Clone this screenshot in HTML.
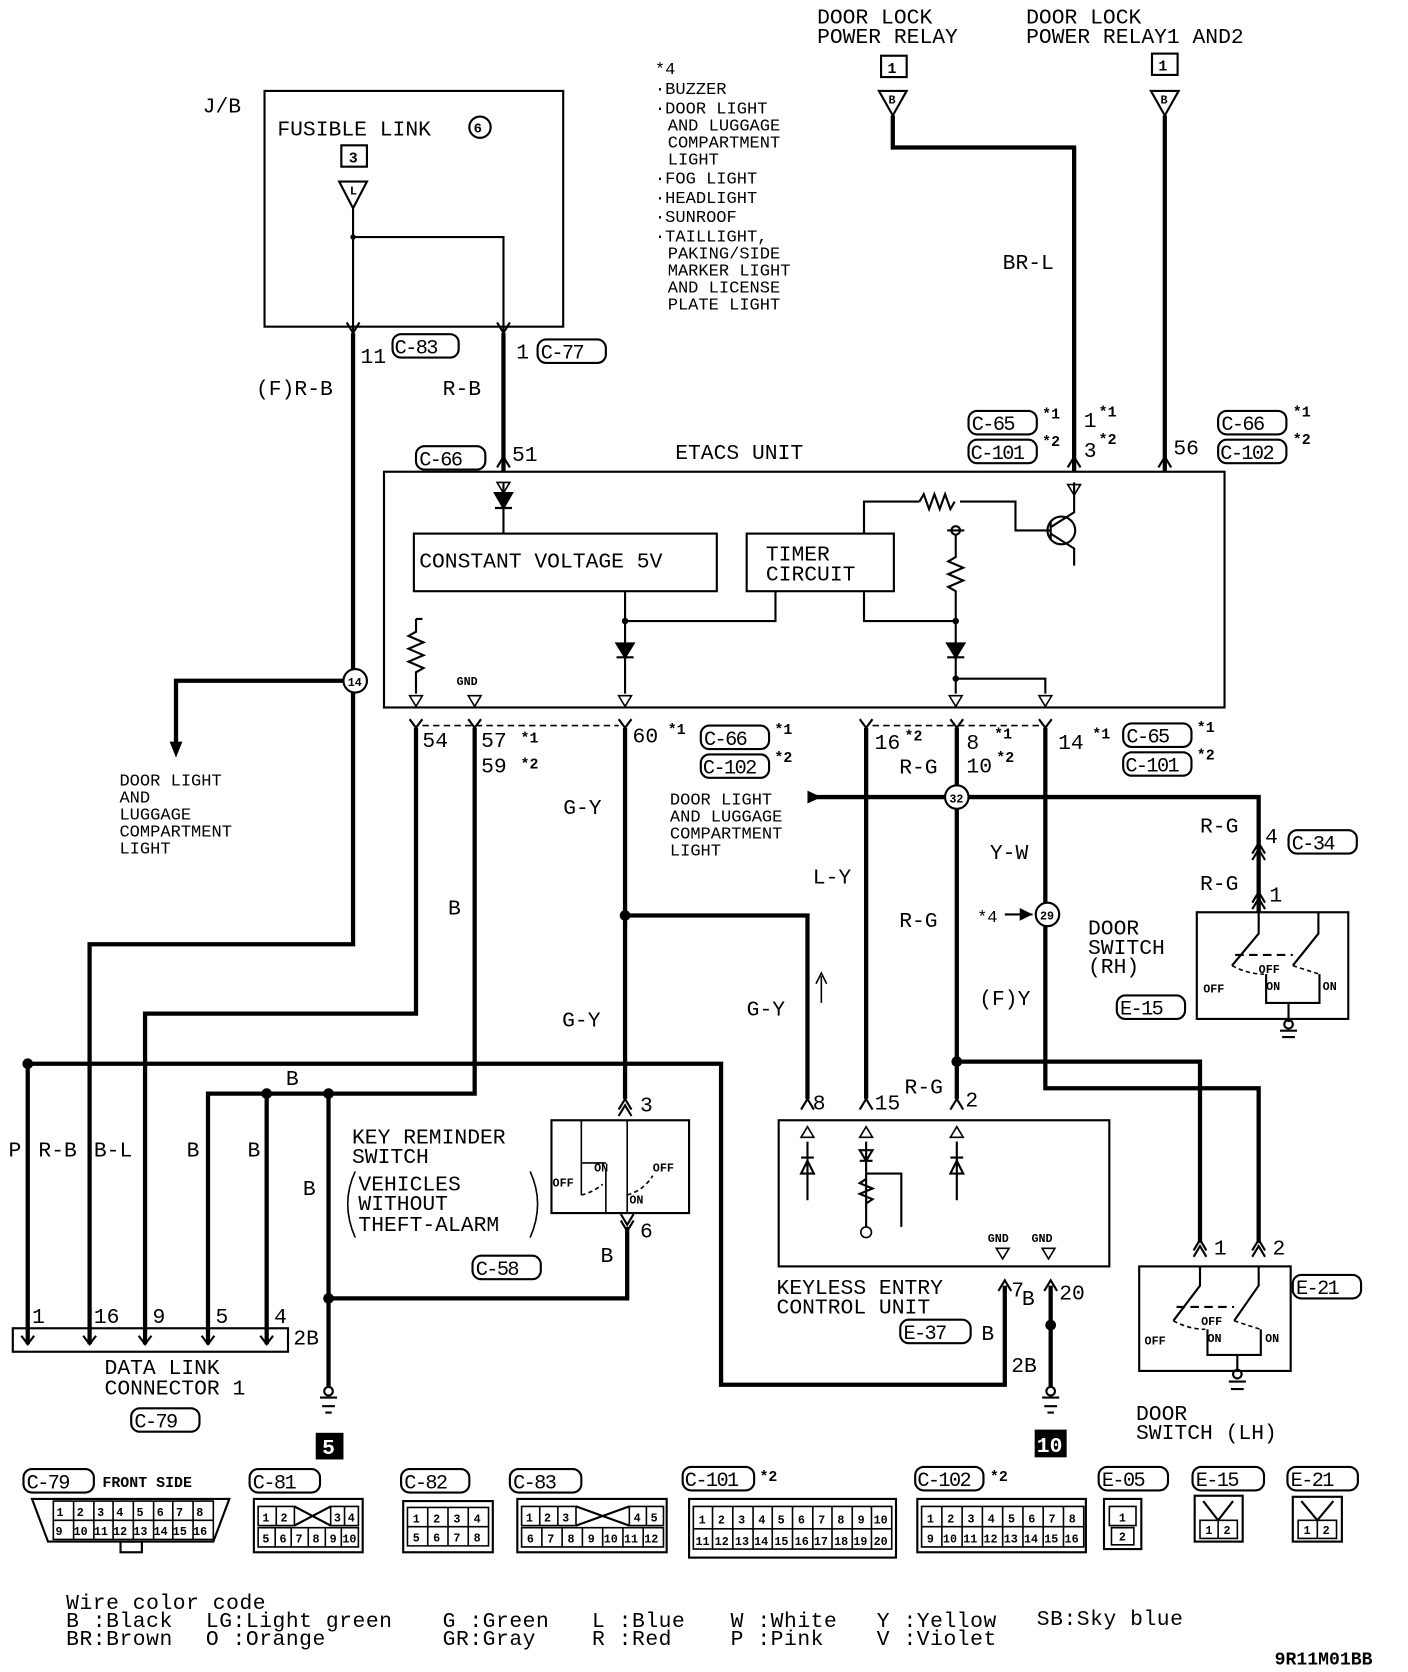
<!DOCTYPE html>
<html><head><meta charset="utf-8"><style>
html,body{margin:0;padding:0;background:#fff}
svg{display:block}
text{font-family:"Liberation Mono",monospace;fill:#000}
.t{font-size:20px}
.s{font-size:16px}
.g{font-size:19px;letter-spacing:-1.5px}
.lg{font-size:20px;letter-spacing:0.5px}
.xs{font-size:11px;font-weight:bold}
.b{font-size:14px;font-weight:bold}
</style></head><body>
<svg width="1408" height="1672" viewBox="0 0 1320 1567" xmlns="http://www.w3.org/2000/svg">
<rect width="1320" height="1567" fill="#fff"/>
<g fill="none" stroke="#000">
<rect x="248" y="85" width="280" height="221" stroke-width="2"/>
<rect x="320" y="136" width="24" height="20" stroke-width="2"/>
<path d="M318 170 L344 170 L331 195 Z" stroke-width="2"/>
<path d="M331 195 V330 M331 222 H472 V330" stroke-width="2"/>
<path d="M325 302 L331 312 L337 302 M466 302 L472 312 L478 302" stroke-width="2"/>
<path d="M331 312 V885 H84 V1245" stroke-width="4"/>
<path d="M472 312 V442" stroke-width="4"/>
<path d="M331 638 H165 V700" stroke-width="4"/>
<rect x="826" y="52" width="24" height="20" stroke-width="2"/>
<path d="M824 85 L850 85 L837 108 Z" stroke-width="2"/>
<path d="M837 108 V138 H1007 V442" stroke-width="4"/>
<rect x="1080" y="50" width="24" height="20" stroke-width="2"/>
<path d="M1079 85 L1105 85 L1092 108 Z" stroke-width="2"/>
<path d="M1092 108 V442" stroke-width="4"/>
<path d="M466 438 L472 428 L478 438 M1001 438 L1007 428 L1013 438 M1086 438 L1092 428 L1098 438" stroke-width="2"/>
<rect x="360" y="442" width="788" height="221" stroke-width="2"/>
<rect x="388" y="500" width="284" height="54" stroke-width="2"/>
<rect x="700" y="500" width="138" height="54" stroke-width="2"/>
<path d="M472 452 V500" stroke-width="2"/>
<path d="M586 554 V582 H727 V554" stroke-width="2"/>
<path d="M586 582 V650" stroke-width="2"/>
<path d="M810 554 V582 H896" stroke-width="2"/>
<path d="M810 500 V470 H862 M900 470 H952 V497 H985" stroke-width="2"/>
<path d="M862 470 l4 -7 l5 14 l5 -14 l5 14 l5 -14 l5 14 l4 -7" stroke-width="2"/>
<circle cx="995" cy="497" r="13" stroke-width="2"/>
<path d="M985 488 V506 M985 494 L1007 480 V452 M985 500 L1007 514 V530" stroke-width="2"/>
<path d="M1001 454 L1013 454 L1007 464 Z" stroke-width="1.5"/>
<circle cx="896" cy="497" r="4" stroke-width="2"/>
<path d="M888 497 H904" stroke-width="2"/>
<path d="M896 501 V522 l-7 4 l14 6 l-14 6 l14 6 l-14 6 l7 4 V650 M896 636 H980 V650" stroke-width="2"/>
<path d="M390 580 V592 l-7 4 l14 6 l-14 6 l14 6 l-14 6 l14 6 l-7 4 V650 M390 580 h6" stroke-width="2"/>
<path d="M384 652 L396 652 L390 662 Z M439 652 L451 652 L445 662 Z M580 652 L592 652 L586 662 Z M890 652 L902 652 L896 662 Z M974 652 L986 652 L980 662 Z M466 452 L478 452 L472 462 Z" stroke-width="1.5"/>
<path d="M384 674 L390 682 L396 674 M439 674 L445 682 L451 674 M580 674 L586 682 L592 674 M806 674 L812 682 L818 674 M891 674 L897 682 L903 674 M974 674 L980 682 L986 674" stroke-width="2"/>
<path d="M396 680 H580 M818 680 H974" stroke-width="1.5" stroke-dasharray="6 4"/>
<path d="M390 682 V950 H136 V1245" stroke-width="4"/>
<path d="M445 682 V1025 H195 V1245 M250 1025 V1245 M308 1025 V1300" stroke-width="4"/>
<path d="M26 1245 V997 H676 V1298 H942 V1205" stroke-width="4"/>
<path d="M308 1217 H588 V1150" stroke-width="4"/>
<path d="M586 682 V1030 M586 858 H757 V1030" stroke-width="4"/>
<path d="M812 682 V1030 M897 682 V1030 M897 995 H1125 V1165" stroke-width="4"/>
<path d="M980 682 V1020 H1180 V1165" stroke-width="4"/>
<path d="M760 747 H1180 V855" stroke-width="4"/>
<path d="M985 1205 V1300" stroke-width="4"/>
<path d="M770 940 V915 M765 922 L770 912 L775 922" stroke-width="1.5"/>
<path d="M942 857 H968" stroke-width="2"/>
<path d="M580 1040 L586 1030 L592 1040 M580 1046 L586 1036 L592 1046 M751 1040 L757 1030 L763 1040 M806 1040 L812 1030 L818 1040 M891 1040 L897 1030 L903 1040" stroke-width="2"/>
<path d="M582 1138 L588 1148 L594 1138 M582 1144 L588 1154 L594 1144" stroke-width="2"/>
<path d="M1174 800 L1180 790 L1186 800 M1174 806 L1180 796 L1186 806 M1174 846 L1180 836 L1186 846 M1174 852 L1180 842 L1186 852" stroke-width="2"/>
<path d="M1119 1172 L1125 1162 L1131 1172 M1119 1178 L1125 1168 L1131 1178 M1174 1172 L1180 1162 L1186 1172 M1174 1178 L1180 1168 L1186 1178" stroke-width="2"/>
<path d="M936 1210 L942 1200 L948 1210 M979 1210 L985 1200 L991 1210" stroke-width="2"/>
<rect x="517" y="1050" width="129" height="87" stroke-width="2"/>
<path d="M545 1050 V1120 M588 1050 V1137 M545 1090 H568 M568 1096 V1137" stroke-width="1.5"/>
<path d="M545 1120 q10 -2 20 -10 M588 1120 q15 -4 24 -18" stroke-width="1.5" stroke-dasharray="4 3"/>
<path d="M333 1098 q-14 30 0 62 M497 1098 q14 30 0 62" stroke-width="1.5"/>
<rect x="730" y="1050" width="310" height="137" stroke-width="2"/>
<path d="M757 1070 V1125 M751 1085 H763 M751 1100 L757 1088 L763 1100 Z M812 1070 V1150 M806 1088 H818 M806 1078 L818 1078 L812 1088 Z M812 1100 H845 V1150 M812 1105 l-6 4 l12 5 l-12 5 l12 5 l-6 4 M897 1070 V1125 M891 1085 H903 M891 1100 L897 1088 L903 1100 Z" stroke-width="2"/>
<path d="M751 1066 L763 1066 L757 1056 Z M806 1066 L818 1066 L812 1056 Z M891 1066 L903 1066 L897 1056 Z" stroke-width="1.5"/>
<circle cx="812" cy="1155" r="5" stroke-width="1.5"/>
<path d="M934 1170 L946 1170 L940 1180 Z M977 1170 L989 1170 L983 1180 Z" stroke-width="1.5"/>
<rect x="12" y="1245" width="258" height="22" stroke-width="2"/>
<path d="M20 1252 L26 1260 L32 1252 M78 1252 L84 1260 L90 1252 M130 1252 L136 1260 L142 1252 M189 1252 L195 1260 L201 1252 M244 1252 L250 1260 L256 1252" stroke-width="2"/>
<path d="M26 1245 V1260 M84 1245 V1260 M136 1245 V1260 M195 1245 V1260 M250 1245 V1260" stroke-width="4"/>
<path d="M300 1310 H316 M302 1318 H314 M305 1324 H311 M977 1310 H993 M979 1318 H991 M982 1324 H988 M1200 966 H1216 M1202 972 H1214 M1152 1295 H1168 M1154 1302 H1166" stroke-width="2"/>
<circle cx="308" cy="1304" r="4" stroke-width="2"/>
<circle cx="985" cy="1304" r="4" stroke-width="2"/>
<rect x="1122" y="855" width="142" height="100" stroke-width="2"/>
<path d="M1180 855 V875 L1155 905 M1236 855 V875 L1212 905" stroke-width="2"/>
<path d="M1158 895 H1212" stroke-width="2" stroke-dasharray="8 5"/>
<path d="M1155 905 q15 8 30 8 M1212 905 q15 5 25 8" stroke-width="1.5" stroke-dasharray="4 3"/>
<path d="M1187 913 V940 H1237 V913 M1208 940 V958" stroke-width="2"/>
<circle cx="1208" cy="960" r="4" stroke-width="2"/>
<rect x="1068" y="1187" width="142" height="98" stroke-width="2"/>
<path d="M1125 1187 V1205 L1100 1238 M1180 1187 V1205 L1157 1238" stroke-width="2"/>
<path d="M1103 1225 H1157" stroke-width="2" stroke-dasharray="8 5"/>
<path d="M1100 1238 q15 8 30 8 M1157 1238 q15 5 25 8" stroke-width="1.5" stroke-dasharray="4 3"/>
<path d="M1132 1246 V1270 H1182 V1246 M1160 1270 V1285" stroke-width="2"/>
<circle cx="1160" cy="1288" r="4" stroke-width="2"/>
<g stroke-width="2">
<rect x="368" y="313" width="62" height="22" rx="8"/>
<rect x="504" y="318" width="64" height="22" rx="8"/>
<rect x="390" y="418" width="65" height="22" rx="8"/>
<rect x="908" y="385" width="64" height="22" rx="8"/>
<rect x="908" y="412" width="64" height="22" rx="8"/>
<rect x="1142" y="385" width="64" height="22" rx="8"/>
<rect x="1142" y="412" width="64" height="22" rx="8"/>
<rect x="657" y="680" width="64" height="22" rx="8"/>
<rect x="657" y="707" width="64" height="22" rx="8"/>
<rect x="1053" y="678" width="64" height="22" rx="8"/>
<rect x="1053" y="705" width="64" height="22" rx="8"/>
<rect x="1208" y="778" width="64" height="22" rx="8"/>
<rect x="1047" y="933" width="64" height="22" rx="8"/>
<rect x="443" y="1177" width="64" height="22" rx="8"/>
<rect x="844" y="1237" width="66" height="22" rx="8"/>
<rect x="1212" y="1195" width="64" height="22" rx="8"/>
<rect x="123" y="1320" width="64" height="22" rx="8"/>
<rect x="22" y="1377" width="66" height="22" rx="8"/>
<rect x="234" y="1377" width="66" height="22" rx="8"/>
<rect x="376" y="1377" width="64" height="22" rx="8"/>
<rect x="478" y="1377" width="67" height="22" rx="8"/>
<rect x="640" y="1375" width="67" height="22" rx="8"/>
<rect x="858" y="1375" width="64" height="22" rx="8"/>
<rect x="1030" y="1375" width="65" height="22" rx="8"/>
<rect x="1118" y="1375" width="67" height="22" rx="8"/>
<rect x="1207" y="1375" width="66" height="22" rx="8"/>
</g>
<circle cx="333" cy="638" r="11" stroke-width="2" fill="#fff"/>
<circle cx="897" cy="747" r="11" stroke-width="2" fill="#fff"/>
<circle cx="982" cy="857" r="11" stroke-width="2" fill="#fff"/>
<circle cx="450" cy="119" r="10" stroke-width="2"/>
<g stroke-width="2">
<path d="M30 1405 H215 L200 1445 H45 Z"/>
<rect x="113" y="1445" width="20" height="10"/>
<rect x="238" y="1405" width="102" height="50"/>
<path d="M276 1412 L310 1430 M276 1430 L310 1412"/>
<rect x="378" y="1407" width="84" height="48"/>
<rect x="485" y="1405" width="140" height="50"/>
<path d="M540 1412 L590 1430 M540 1430 L590 1412"/>
<rect x="646" y="1405" width="194" height="55"/>
<rect x="860" y="1405" width="158" height="50"/>
<rect x="1035" y="1405" width="35" height="47"/>
<rect x="1120" y="1402" width="45" height="43"/>
<path d="M1128 1407 L1142 1425 L1156 1407"/>
<rect x="1212" y="1403" width="46" height="42"/>
<path d="M1220 1407 L1235 1425 L1250 1407"/>
</g>
<g stroke-width="1.5">
<path d="M50 1407 H200 V1443 H50 Z M50 1425 H200 M69 1407 V1443 M88 1407 V1443 M106 1407 V1443 M125 1407 V1443 M144 1407 V1443 M162 1407 V1443 M181 1407 V1443"/>
<path d="M242 1412 H276 V1430 H242 Z M259 1412 V1430 M310 1412 H336 V1430 H310 Z M323 1412 V1430 M242 1432 H336 V1450 H242 Z M258 1432 V1450 M273 1432 V1450 M289 1432 V1450 M305 1432 V1450 M320 1432 V1450"/>
<path d="M382 1413 H458 V1449 H382 Z M382 1431 H458 M401 1413 V1449 M420 1413 V1449 M439 1413 V1449"/>
<path d="M489 1412 H540 V1430 H489 Z M506 1412 V1430 M523 1412 V1430 M590 1412 H622 V1430 H590 Z M606 1412 V1430 M489 1432 H622 V1450 H489 Z M508 1432 V1450 M527 1432 V1450 M546 1432 V1450 M565 1432 V1450 M584 1432 V1450 M603 1432 V1450"/>
<path d="M650 1412 H836 V1452 H650 Z M650 1433 H836 M668 1412 V1452 M687 1412 V1452 M706 1412 V1452 M724 1412 V1452 M743 1412 V1452 M762 1412 V1452 M780 1412 V1452 M799 1412 V1452 M817 1412 V1452"/>
<path d="M864 1412 H1016 V1450 H864 Z M864 1431 H1016 M883 1412 V1450 M902 1412 V1450 M921 1412 V1450 M940 1412 V1450 M959 1412 V1450 M978 1412 V1450 M997 1412 V1450"/>
<path d="M1040 1412 H1065 V1430 H1040 Z M1042 1432 H1063 V1448 H1042 Z"/>
<path d="M1125 1425 H1160 V1442 H1125 Z M1142 1425 V1442 M1217 1425 H1253 V1442 H1217 Z M1235 1425 V1442"/>
</g>
</g>
<g fill="#000">
<circle cx="331" cy="222" r="2.5"/>
<circle cx="26" cy="997" r="5"/><circle cx="250" cy="1025" r="5"/><circle cx="308" cy="1025" r="5"/>
<circle cx="308" cy="1217" r="5"/><circle cx="586" cy="858" r="5"/><circle cx="897" cy="995" r="5"/>
<circle cx="985" cy="1242" r="5"/><circle cx="586" cy="582" r="3"/><circle cx="896" cy="582" r="3"/><circle cx="896" cy="636" r="3"/>
<path d="M165 710 L159 695 L171 695 Z"/>
<path d="M770 747 L757 741 L757 753 Z"/>
<path d="M968 857 L956 851 L956 863 Z"/>
<path d="M464 462 L480 462 L472 476 Z M464 476 H480" stroke="#000" stroke-width="2"/>
<path d="M578 603 L594 603 L586 616 Z M578 616 H594" stroke="#000" stroke-width="2"/>
<path d="M888 603 L904 603 L896 616 Z M888 616 H904" stroke="#000" stroke-width="2"/>
<rect x="296" y="1343" width="26" height="25"/>
<rect x="970" y="1340" width="30" height="26"/>
</g>
<g class="t">
<text x="190" y="105">J/B</text>
<text x="260" y="127">FUSIBLE LINK</text>
<text x="338" y="340">11</text>
<text x="484" y="336">1</text>
<text x="240" y="370">(F)R-B</text>
<text x="415" y="370">R-B</text>
<text x="480" y="432">51</text>
<text x="633" y="430">ETACS UNIT</text>
<text x="766" y="22">DOOR LOCK</text><text x="766" y="40">POWER RELAY</text>
<text x="962" y="22">DOOR LOCK</text><text x="962" y="40">POWER RELAY1 AND2</text>
<text x="940" y="252">BR-L</text>
<text x="1016" y="400">1</text><text x="1016" y="428">3</text>
<text x="1100" y="426">56</text>
<text x="393" y="532">CONSTANT VOLTAGE 5V</text>
<text x="718" y="525">TIMER</text><text x="718" y="544">CIRCUIT</text>
<text x="396" y="700">54</text>
<text x="451" y="700">57</text><text x="451" y="724">59</text>
<text x="593" y="696">60</text>
<text x="820" y="702">16</text>
<text x="906" y="702">8</text><text x="906" y="724">10</text>
<text x="992" y="702">14</text>
<text x="843" y="725">R-G</text>
<text x="528" y="763">G-Y</text>
<text x="762" y="828">L-Y</text>
<text x="928" y="805">Y-W</text>
<text x="843" y="869">R-G</text>
<text x="420" y="857">B</text>
<text x="527" y="962">G-Y</text>
<text x="700" y="952">G-Y</text>
<text x="918" y="942">(F)Y</text>
<text x="1125" y="780">R-G</text><text x="1186" y="790">4</text>
<text x="1125" y="834">R-G</text><text x="1190" y="845">1</text>
<text x="1020" y="876">DOOR</text><text x="1020" y="894">SWITCH</text><text x="1020" y="912">(RH)</text>
<text x="268" y="1017">B</text>
<text x="8" y="1084">P</text><text x="36" y="1084">R-B</text><text x="88" y="1084">B-L</text>
<text x="175" y="1084">B</text><text x="232" y="1084">B</text>
<text x="284" y="1120">B</text>
<text x="330" y="1072">KEY REMINDER</text><text x="330" y="1090">SWITCH</text>
<text x="336" y="1116">VEHICLES</text><text x="336" y="1134">WITHOUT</text><text x="336" y="1154">THEFT-ALARM</text>
<text x="600" y="1042">3</text><text x="600" y="1160">6</text>
<text x="563" y="1183">B</text>
<text x="762" y="1040">8</text><text x="820" y="1040">15</text><text x="848" y="1025">R-G</text><text x="905" y="1037">2</text>
<text x="1138" y="1176">1</text><text x="1193" y="1176">2</text>
<text x="728" y="1213">KEYLESS ENTRY</text><text x="728" y="1231">CONTROL UNIT</text>
<text x="948" y="1215">7</text><text x="958" y="1223">B</text><text x="993" y="1218">20</text>
<text x="920" y="1256">B</text><text x="948" y="1286">2B</text>
<text x="30" y="1240">1</text><text x="88" y="1240">16</text><text x="143" y="1240">9</text><text x="202" y="1240">5</text><text x="257" y="1240">4</text>
<text x="275" y="1260">2B</text>
<text x="98" y="1288">DATA LINK</text><text x="98" y="1307">CONNECTOR 1</text>
<text x="1065" y="1331">DOOR</text><text x="1065" y="1349">SWITCH (LH)</text>
</g>
<g class="s">
<text x="614" y="69">*4</text>
<text x="614" y="88">·BUZZER</text>
<text x="614" y="106">·DOOR LIGHT</text>
<text x="626" y="122">AND LUGGAGE</text>
<text x="626" y="138">COMPARTMENT</text>
<text x="626" y="154">LIGHT</text>
<text x="614" y="172">·FOG LIGHT</text>
<text x="614" y="190">·HEADLIGHT</text>
<text x="614" y="208">·SUNROOF</text>
<text x="614" y="226">·TAILLIGHT,</text>
<text x="626" y="242">PAKING/SIDE</text>
<text x="626" y="258">MARKER LIGHT</text>
<text x="626" y="274">AND LICENSE</text>
<text x="626" y="290">PLATE LIGHT</text>
<text x="112" y="736">DOOR LIGHT</text>
<text x="112" y="752">AND</text><text x="112" y="768">LUGGAGE</text><text x="112" y="784">COMPARTMENT</text><text x="112" y="800">LIGHT</text>
<text x="628" y="754">DOOR LIGHT</text><text x="628" y="770">AND LUGGAGE</text><text x="628" y="786">COMPARTMENT</text><text x="628" y="802">LIGHT</text>
<text x="916" y="864">*4</text>
</g>
<g class="g">
<text x="370" y="331">C-83</text><text x="507" y="336">C-77</text><text x="393" y="436">C-66</text>
<text x="911" y="403">C-65</text><text x="910" y="430">C-101</text>
<text x="1145" y="403">C-66</text><text x="1144" y="430">C-102</text>
<text x="660" y="698">C-66</text><text x="659" y="725">C-102</text>
<text x="1056" y="696">C-65</text><text x="1055" y="723">C-101</text>
<text x="1211" y="796">C-34</text><text x="1050" y="951">E-15</text>
<text x="446" y="1195">C-58</text><text x="847" y="1255">E-37</text><text x="1215" y="1213">E-21</text>
<text x="126" y="1338">C-79</text>
<text x="25" y="1395">C-79</text><text x="237" y="1395">C-81</text><text x="379" y="1395">C-82</text><text x="481" y="1395">C-83</text>
<text x="642" y="1393">C-101</text><text x="860" y="1393">C-102</text><text x="1033" y="1393">E-05</text><text x="1121" y="1393">E-15</text><text x="1210" y="1393">E-21</text>
</g>
<g class="lg">
<text x="62" y="1508">Wire color code</text>
<text x="62" y="1525">B :Black</text><text x="62" y="1542">BR:Brown</text>
<text x="193" y="1525">LG:Light green</text><text x="193" y="1542">O :Orange</text>
<text x="415" y="1525">G :Green</text><text x="415" y="1542">GR:Gray</text>
<text x="555" y="1525">L :Blue</text><text x="555" y="1542">R :Red</text>
<text x="685" y="1525">W :White</text><text x="685" y="1542">P :Pink</text>
<text x="822" y="1525">Y :Yellow</text><text x="822" y="1542">V :Violet</text>
<text x="972" y="1523">SB:Sky blue</text>
</g>
<g class="b">
<text x="96" y="1394">FRONT SIDE</text>
<text x="1195" y="1560" style="font-size:17px">9R11M01BB</text>
<text x="977" y="392">*1</text><text x="977" y="418">*2</text>
<text x="1030" y="390">*1</text><text x="1030" y="416">*2</text>
<text x="1212" y="390">*1</text><text x="1212" y="416">*2</text>
<text x="488" y="696">*1</text><text x="488" y="720">*2</text>
<text x="626" y="688">*1</text>
<text x="726" y="688">*1</text><text x="726" y="714">*2</text>
<text x="848" y="694">*2</text><text x="932" y="692">*1</text><text x="934" y="714">*2</text>
<text x="1024" y="692">*1</text><text x="1122" y="686">*1</text><text x="1122" y="712">*2</text>
<text x="712" y="1388">*2</text><text x="928" y="1388">*2</text>
<text x="444" y="124" style="font-size:13px">6</text>
<text x="327" y="152">3</text><text x="832" y="68">1</text><text x="1086" y="66">1</text>
<text x="326" y="643" style="font-size:11px">14</text>
<text x="890" y="752" style="font-size:11px">32</text>
<text x="975" y="862" style="font-size:11px">29</text>
<text x="302" y="1363" style="font-size:20px;fill:#fff">5</text>
<text x="972" y="1361" style="font-size:20px;fill:#fff">10</text>
</g>
<g class="xs">
<text x="328" y="182">L</text><text x="833" y="97">B</text><text x="1088" y="97">B</text>
<text x="428" y="642">GND</text><text x="926" y="1164">GND</text><text x="967" y="1164">GND</text>
<text x="518" y="1112">OFF</text><text x="557" y="1098">ON</text><text x="612" y="1098">OFF</text><text x="590" y="1128">ON</text>
<text x="1128" y="930">OFF</text><text x="1180" y="912">OFF</text><text x="1187" y="928">ON</text><text x="1240" y="928">ON</text>
<text x="1073" y="1260">OFF</text><text x="1126" y="1242">OFF</text><text x="1132" y="1258">ON</text><text x="1186" y="1258">ON</text>
<text x="53" y="1421">1</text><text x="72" y="1421">2</text><text x="91" y="1421">3</text><text x="109" y="1421">4</text><text x="128" y="1421">5</text><text x="147" y="1421">6</text><text x="165" y="1421">7</text><text x="184" y="1421">8</text>
<text x="52" y="1439">9</text><text x="69" y="1439">10</text><text x="88" y="1439">11</text><text x="106" y="1439">12</text><text x="125" y="1439">13</text><text x="144" y="1439">14</text><text x="162" y="1439">15</text><text x="181" y="1439">16</text>
<text x="246" y="1426">1</text><text x="263" y="1426">2</text><text x="313" y="1426">3</text><text x="326" y="1426">4</text>
<text x="246" y="1446">5</text><text x="262" y="1446">6</text><text x="277" y="1446">7</text><text x="293" y="1446">8</text><text x="309" y="1446">9</text><text x="321" y="1446">10</text>
<text x="387" y="1427">1</text><text x="406" y="1427">2</text><text x="425" y="1427">3</text><text x="444" y="1427">4</text>
<text x="387" y="1445">5</text><text x="406" y="1445">6</text><text x="425" y="1445">7</text><text x="444" y="1445">8</text>
<text x="493" y="1426">1</text><text x="510" y="1426">2</text><text x="527" y="1426">3</text><text x="594" y="1426">4</text><text x="610" y="1426">5</text>
<text x="494" y="1446">6</text><text x="513" y="1446">7</text><text x="532" y="1446">8</text><text x="551" y="1446">9</text><text x="566" y="1446">10</text><text x="585" y="1446">11</text><text x="604" y="1446">12</text>
<text x="655" y="1428">1</text><text x="673" y="1428">2</text><text x="692" y="1428">3</text><text x="711" y="1428">4</text><text x="729" y="1428">5</text><text x="748" y="1428">6</text><text x="767" y="1428">7</text><text x="785" y="1428">8</text><text x="804" y="1428">9</text><text x="819" y="1428">10</text>
<text x="652" y="1448">11</text><text x="670" y="1448">12</text><text x="689" y="1448">13</text><text x="707" y="1448">14</text><text x="726" y="1448">15</text><text x="745" y="1448">16</text><text x="763" y="1448">17</text><text x="782" y="1448">18</text><text x="800" y="1448">19</text><text x="819" y="1448">20</text>
<text x="869" y="1427">1</text><text x="888" y="1427">2</text><text x="907" y="1427">3</text><text x="926" y="1427">4</text><text x="945" y="1427">5</text><text x="964" y="1427">6</text><text x="983" y="1427">7</text><text x="1002" y="1427">8</text>
<text x="869" y="1446">9</text><text x="884" y="1446">10</text><text x="903" y="1446">11</text><text x="922" y="1446">12</text><text x="941" y="1446">13</text><text x="960" y="1446">14</text><text x="979" y="1446">15</text><text x="998" y="1446">16</text>
<text x="1049" y="1426">1</text><text x="1049" y="1444">2</text>
<text x="1130" y="1438">1</text><text x="1147" y="1438">2</text><text x="1222" y="1438">1</text><text x="1240" y="1438">2</text>
</g>
</svg>
</body></html>
